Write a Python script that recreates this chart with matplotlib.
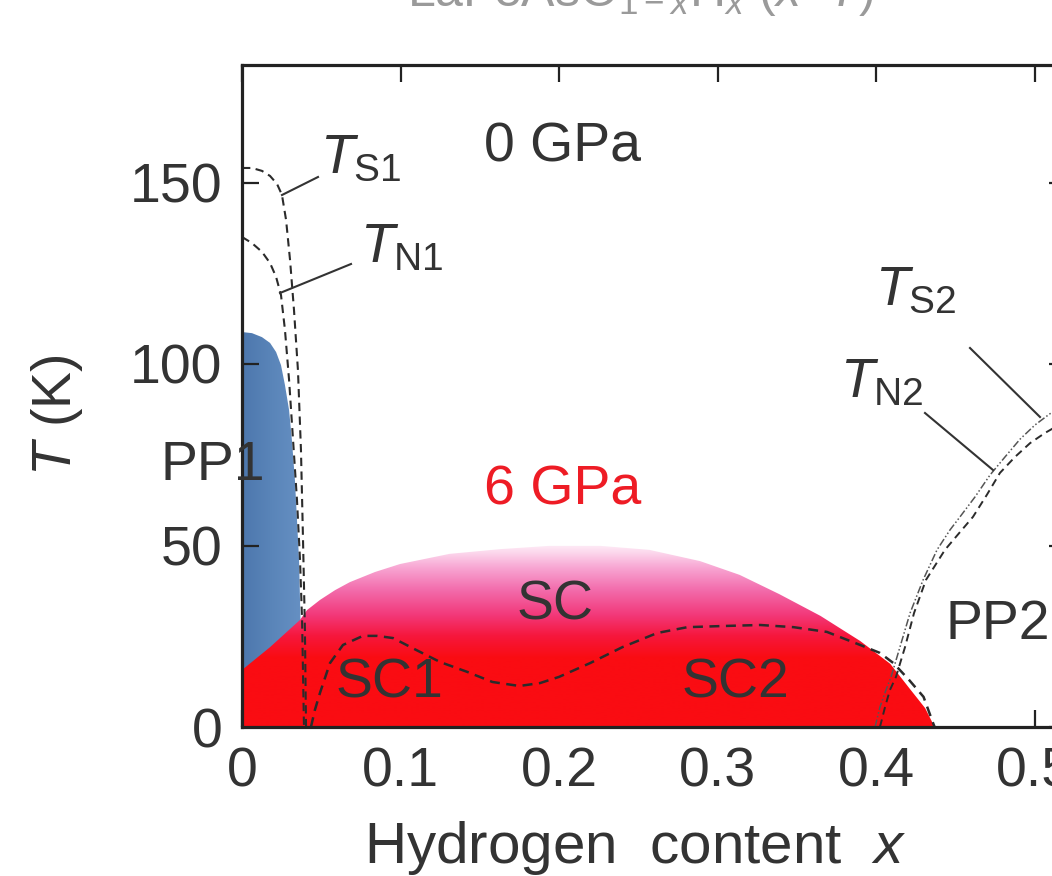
import numpy as np
import matplotlib.pyplot as plt
from matplotlib.colors import LinearSegmentedColormap
from matplotlib.patches import Polygon

plt.rcParams['font.family'] = ['Liberation Sans', 'DejaVu Sans']
plt.rcParams['mathtext.fontset'] = 'custom'
plt.rcParams['mathtext.rm'] = 'Liberation Sans'
plt.rcParams['mathtext.it'] = 'Liberation Sans:italic'
plt.rcParams['mathtext.sf'] = 'Liberation Sans'

# ---- phase boundaries (x = hydrogen content, T in K) ----
# PP1 region (0 GPa, parent phase 1)
pp1_x = [0.0, 0.0063, 0.0126, 0.0177, 0.0215, 0.0246, 0.0271, 0.0297, 0.0315,
         0.0334, 0.0347, 0.0360, 0.0366, 0.0372, 0.0372]
pp1_T = [108.8, 108.5, 107.4, 105.8, 103.3, 99.7, 94.2, 87.3, 79.0,
         68.0, 57.0, 46.0, 35.0, 24.2, 0.0]

# SC dome at 6 GPa
dome_x = [0.0, 0.0177, 0.0366, 0.041, 0.0492, 0.0587, 0.068, 0.0839, 0.0997, 0.131,
          0.163, 0.194, 0.226, 0.257, 0.289, 0.314, 0.339, 0.365, 0.390, 0.409,
          0.421, 0.431, 0.437]
dome_T = [15.7, 22.0, 29.5, 32.2, 35.0, 37.7, 39.9, 42.7, 44.9, 47.7,
          49.0, 49.9, 49.9, 48.8, 45.7, 41.9, 36.6, 30.6, 23.7, 17.4,
          10.7, 5.2, 0.0]

# Tc at 0 GPa (SC1 + SC2)
tc_x = [0.0435, 0.046, 0.0492, 0.0555, 0.0637, 0.0763, 0.0852, 0.0953, 0.110, 0.125,
        0.142, 0.158, 0.175, 0.188, 0.200, 0.2196, 0.240, 0.262, 0.281, 0.302,
        0.327, 0.348, 0.369, 0.390, 0.4025, 0.411, 0.421, 0.430, 0.436, 0.437]
tc_T = [0.0, 4.7, 9.4, 17.6, 22.6, 25.1, 25.1, 24.5, 21.2, 17.9,
        15.2, 12.4, 11.3, 12.1, 13.8, 17.6, 22.0, 25.9, 27.5, 27.8,
        28.1, 27.5, 26.2, 22.6, 20.4, 17.6, 12.9, 8.3, 1.1, 0.0]

# structural / magnetic transitions, parent phase 1
ts1_x = [0.0, 0.0063, 0.0126, 0.0177, 0.0221, 0.0252, 0.0278, 0.0303, 0.0328,
         0.0353, 0.0372, 0.0385, 0.0397, 0.0404]
ts1_T = [154.0, 154.0, 153.2, 151.8, 149.6, 146.6, 139.7, 128.7, 114.9,
         98.3, 76.3, 51.5, 26.7, 0.0]
tn1_x = [0.0, 0.0063, 0.0126, 0.0177, 0.0215, 0.0246, 0.0271, 0.0297, 0.0322,
         0.0347, 0.0366, 0.0379, 0.0391]
tn1_T = [135.0, 133.3, 130.9, 127.8, 124.0, 119.0, 109.4, 95.6, 79.1,
         62.5, 46.0, 29.5, 0.0]

# structural / magnetic transitions, parent phase 2
ts2_x = [0.3994, 0.4025, 0.4063, 0.4095, 0.4151, 0.4215, 0.4297, 0.4385, 0.4467,
         0.4530, 0.4625, 0.4719, 0.4814, 0.4909, 0.5003, 0.5079, 0.5174]
ts2_T = [0.0, 5.5, 10.2, 13.8, 22.0, 31.4, 40.5, 48.8, 54.3,
         57.9, 63.4, 69.4, 74.4, 79.3, 83.2, 85.7, 88.7]
tn2_x = [0.4025, 0.4057, 0.4088, 0.4126, 0.4183, 0.4240, 0.4315, 0.4435, 0.4530,
         0.4612, 0.4700, 0.4782, 0.4877, 0.4972, 0.5066, 0.5174]
tn2_T = [0.0, 5.5, 10.2, 13.8, 22.0, 31.4, 40.5, 48.8, 53.7,
         57.9, 64.0, 70.0, 74.4, 78.2, 81.0, 83.7]

x_ticks = [0, 0.1, 0.2, 0.3, 0.4, 0.5]
x_tick_labels = ['0', '0.1', '0.2', '0.3', '0.4', '0.5']
y_ticks = [0, 50, 100, 150]
y_tick_labels = ['0', '50', '100', '150']

# ---- figure ----
W, H = 1052, 876
fig = plt.figure(figsize=(W / 100, H / 100), dpi=100)
left_px, bot_px, top_px = 242, 727, 65
xmax = 0.52
xscale = 1585.0
ymax = (bot_px - top_px) / 3.63
ax = fig.add_axes([left_px / W, 1 - bot_px / H, xmax * xscale / W, (bot_px - top_px) / H])

ink = '#2b2b2b'

# PP1 fill with a horizontal blue gradient
pp1_poly = Polygon(np.column_stack([[0.0] + pp1_x, [0.0] + pp1_T]), closed=True,
                   facecolor='none', edgecolor='none')
ax.add_patch(pp1_poly)
blue_cmap = LinearSegmentedColormap.from_list('pp1', ['#4d77ad', '#5a85b9', '#6690c3'])
bgrad = np.linspace(0, 1, 128)[None, :]
im_b = ax.imshow(bgrad, extent=[0, 0.0375, 0, 110], origin='lower', cmap=blue_cmap,
                 aspect='auto', interpolation='bilinear', zorder=1)
im_b.set_clip_path(pp1_poly)

# SC dome fill with a vertical red-to-pink gradient
dome_poly = Polygon(np.column_stack([dome_x + [0.0], dome_T + [0.0]]), closed=True,
                    facecolor='none', edgecolor='none')
ax.add_patch(dome_poly)
top_T = 51.0
stops = [(0.0, '#fa0c12'), (19 / top_T, '#fa0c12'), (25 / top_T, '#f6173d'),
         (31 / top_T, '#f23a7c'), (38 / top_T, '#f36fae'), (44 / top_T, '#f8a8d4'),
         (48 / top_T, '#fcd8ed'), (1.0, '#fff6fb')]
red_cmap = LinearSegmentedColormap.from_list('sc', stops)
rgrad = np.linspace(0, 1, 256)[:, None]
im_r = ax.imshow(rgrad, extent=[0, 0.44, 0, top_T], origin='lower', cmap=red_cmap,
                 aspect='auto', interpolation='bilinear', zorder=2)
im_r.set_clip_path(dome_poly)

# transition lines
dash = (0, (4, 2.6))
ax.plot(ts1_x, ts1_T, color=ink, lw=1.5, ls=dash, zorder=3)
ax.plot(tn1_x, tn1_T, color=ink, lw=1.5, ls=dash, zorder=3)
ax.plot(tc_x, tc_T, color=ink, lw=1.8, ls=dash, zorder=3)
ax.plot(ts2_x, ts2_T, color='#555555', lw=1.1, ls=(0, (5, 1.5, 1, 1.5, 1, 1.5)), zorder=3)
ax.plot(tn2_x, tn2_T, color=ink, lw=1.4, ls=dash, zorder=3)

ax.set_xlim(0, xmax)
ax.set_ylim(0, ymax)
ax.set_xticks(x_ticks)
ax.set_xticklabels(x_tick_labels)
ax.set_yticks(y_ticks)
ax.set_yticklabels(y_tick_labels)
ax.tick_params(direction='in', length=12, width=1.6, top=True, right=True,
               labelsize=40, pad=14, color='#222222', labelcolor='#333333')
for sp in ax.spines.values():
    sp.set_linewidth(2.3)
    sp.set_color('#222222')
    sp.set_zorder(5)


def px(xp, yp):
    return xp / W, 1 - yp / H


# axis labels
fig.text(*px(635, 848), 'Hydrogen  content  $x$', ha='center', va='center',
         fontsize=42, color='#333333')
fig.text(*px(57, 415), '$T$ (K)', ha='center', va='center', rotation=90,
         fontsize=40, color='#333333')

# heading above the panel
fig.text(*px(640, 6), 'LaFeAsO$_{1-x}$H$_x$ ($x$–$T$)', ha='center', va='baseline',
         fontsize=36, color='#9a9a9a')

# region labels
fs = 40
fig.text(*px(563, 148), '0 GPa', ha='center', va='center', fontsize=fs, color='#333333')
fig.text(*px(563, 490), '6 GPa', ha='center', va='center', fontsize=fs, color='#ee1c25')
fig.text(*px(213, 466), 'PP1', ha='center', va='center', fontsize=fs, color='#333333', zorder=6)
fig.text(*px(555, 605), 'SC', ha='center', va='center', fontsize=fs, color='#333333')
fig.text(*px(389, 683), 'SC1', ha='center', va='center', fontsize=fs, color='#333333')
fig.text(*px(735, 683), 'SC2', ha='center', va='center', fontsize=fs, color='#333333')
fig.text(*px(998, 625), 'PP2', ha='center', va='center', fontsize=fs, color='#333333')

# transition labels with leader lines
fig.text(*px(320, 173), r'$T_{\mathrm{S1}}$', ha='left', va='baseline', fontsize=fs, color='#333333')
fig.text(*px(360, 262), r'$T_{\mathrm{N1}}$', ha='left', va='baseline', fontsize=fs, color='#333333')
fig.text(*px(875, 305), r'$T_{\mathrm{S2}}$', ha='left', va='baseline', fontsize=fs, color='#333333')
fig.text(*px(840, 397), r'$T_{\mathrm{N2}}$', ha='left', va='baseline', fontsize=fs, color='#333333')

leaders = [((318, 177), (282, 195)), ((351, 264), (280, 293)),
           ((970, 348), (1040, 417)), ((925, 413), (993, 470))]
for (xa, ya), (xb, yb) in leaders:
    fig.add_artist(plt.Line2D([xa / W, xb / W], [1 - ya / H, 1 - yb / H],
                              color='#333333', lw=1.5, transform=fig.transFigure))

fig.savefig('out.png', dpi=100)
